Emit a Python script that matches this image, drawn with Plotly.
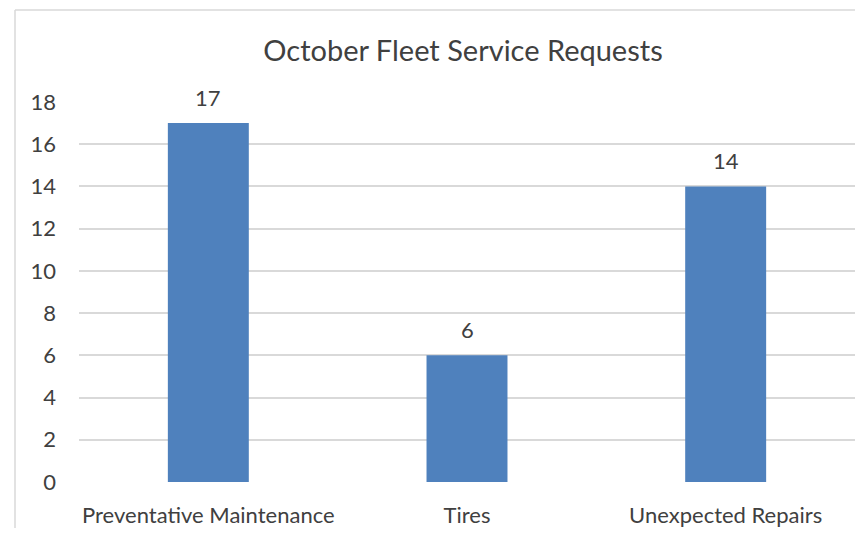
import plotly.graph_objects as go

categories = ["Preventative Maintenance", "Tires", "Unexpected Repairs"]
requests = [17, 6, 14]
y_ticks = [0, 2, 4, 6, 8, 10, 12, 14, 16, 18]
title_text = "October Fleet Service Requests"

O = 8  # page body margin
W, H = 863 - 2 * O, 536 - 2 * O
# plot area in screen pixels
PX0, PX1, PY0, PY1 = 79, 855, 102, 482
L, R = PX0 - O, max(0, (O + W) - PX1)
T, B = PY0 - O, (O + H) - PY1
pw, ph = PX1 - PX0, PY1 - PY0

def px_x(x):
    return (x - PX0) / pw

def px_y(y):
    return (PY1 - y) / ph

FONT = "Lato, Carlito, Calibri, sans-serif"
TXT = "#404040"

fig = go.Figure()
fig.add_trace(go.Bar(
    x=categories, y=requests,
    marker=dict(color="#4f81bd", line=dict(width=0)),
    cliponaxis=False, width=0.313,
))
for c, v in zip(categories, requests):
    fig.add_annotation(x=c, y=v, text=str(v), showarrow=False, yanchor="bottom",
                       yshift=10, font=dict(family=FONT, size=22, color=TXT))

border = dict(color="#d9d9d9", width=1.5)
fig.update_layout(
    width=W, height=H,
    margin=dict(l=L, r=R, t=T, b=B, pad=0),
    paper_bgcolor="white", plot_bgcolor="white",
    showlegend=False,
    title=dict(text=title_text, x=(463 - O) / W, xanchor="center", y=1 - (51 - O) / H,
               yanchor="middle", yref="container",
               font=dict(family=FONT, size=29, color=TXT)),
    xaxis=dict(showgrid=False, showline=False, ticks="",
               tickfont=dict(family=FONT, size=22, color=TXT), ticklabelstandoff=18),
    yaxis=dict(range=[0, 18], tickvals=y_ticks, showgrid=True, gridcolor="#d9d9d9",
               gridwidth=1.5, zeroline=False, showline=False, ticks="",
               tickfont=dict(family=FONT, size=22, color=TXT),
               ticklabelstandoff=22),
    shapes=[
        dict(type="line", xref="paper", yref="paper",
             x0=px_x(15), x1=px_x(875), y0=px_y(10), y1=px_y(10), line=border, layer="below"),
        dict(type="line", xref="paper", yref="paper",
             x0=px_x(15), x1=px_x(15), y0=px_y(10), y1=px_y(560), line=border, layer="below"),
    ],
)
fig.write_html("out.html")
